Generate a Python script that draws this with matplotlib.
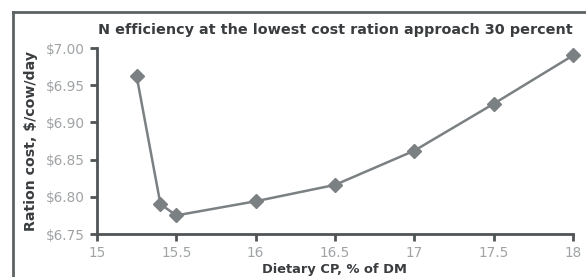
import matplotlib
matplotlib.use('Agg')
import matplotlib.pyplot as plt
from matplotlib.lines import Line2D

# data
cp_pct = [15.25, 15.4, 15.5, 16.0, 16.5, 17.0, 17.5, 18.0]
ration_cost = [6.962, 6.790, 6.775, 6.794, 6.816, 6.862, 6.925, 6.990]
xticks = [15, 15.5, 16, 16.5, 17, 17.5, 18]
xticklabels = ['15', '15.5', '16', '16.5', '17', '17.5', '18']
yticks = [6.75, 6.80, 6.85, 6.90, 6.95, 7.00]

plt.rcParams['font.family'] = ['DejaVu Sans']

W, H = 586, 277
fig = plt.figure(figsize=(W/100, H/100), dpi=100)
ax = fig.add_axes((97/W, 1-234/H, (573-97)/W, (234-48)/H))

line_col = '#7b8082'
spine_col = '#4f5456'
text_col = '#3a3d3f'
ax.plot(cp_pct, ration_cost, color=line_col, lw=1.8, marker='D', ms=7.5,
        mfc=line_col, mec=line_col, clip_on=False)

ax.set_xlim(15, 18)
ax.set_ylim(6.75, 7.00)
ax.set_xticks(xticks)
ax.set_xticklabels(xticklabels)
ax.set_yticks(yticks)
ax.set_yticklabels(['${:.2f}'.format(v) for v in yticks])

for s in ['top', 'right']:
    ax.spines[s].set_visible(False)
for s in ['left', 'bottom']:
    ax.spines[s].set_color(spine_col)
    ax.spines[s].set_linewidth(2)
ax.tick_params(axis='both', direction='out', length=5, width=2, color=spine_col,
               labelcolor='#a0a3a5', labelsize=9.8)
ax.tick_params(axis='x', pad=3.5)
ax.tick_params(axis='y', pad=3.5)

ax.set_title('N efficiency at the lowest cost ration approach 30 percent',
             fontsize=10.4, fontweight='bold', color=text_col, pad=10)
ax.set_xlabel('Dietary CP, % of DM', fontsize=9.4, fontweight='bold', color=text_col, labelpad=2)
ax.set_ylabel('Ration cost, $/cow/day', fontsize=10.2, fontweight='bold', color=text_col, labelpad=6)

# outer frame (left and top edges)
fig.add_artist(Line2D([12.5/W, 12.5/W], [0, 1-11.5/H], transform=fig.transFigure,
                      color='#5d6264', lw=2))
fig.add_artist(Line2D([12.5/W, 1], [1-11.5/H, 1-11.5/H], transform=fig.transFigure,
                      color='#5d6264', lw=2))

fig.savefig('out.png', dpi=100)
